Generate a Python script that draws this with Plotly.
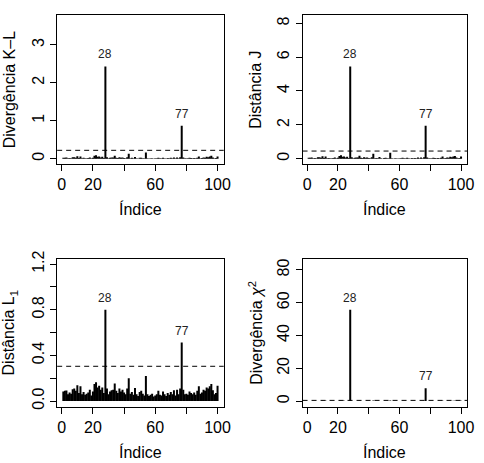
import plotly.graph_objects as go

indices = list(range(1, 101))

kl = [0.024, 0.027, 0.028, 0.012, 0.019, 0.014, 0.036, 0.040, 0.027, 0.065,
      0.016, 0.056, 0.012, 0.021, 0.010, 0.014, 0.019, 0.033, 0.008, 0.024,
      0.074, 0.090, 0.048, 0.060, 0.033, 0.048, 0.016, 2.430, 0.040, 0.012,
      0.024, 0.030, 0.033, 0.079, 0.027, 0.016, 0.040, 0.024, 0.033, 0.019,
      0.012, 0.040, 0.132, 0.014, 0.021, 0.010, 0.044, 0.012, 0.007, 0.021,
      0.027, 0.014, 0.008, 0.160, 0.012, 0.007, 0.010, 0.014, 0.005, 0.008,
      0.012, 0.027, 0.010, 0.008, 0.024, 0.012, 0.007, 0.016, 0.010, 0.021,
      0.012, 0.030, 0.008, 0.033, 0.012, 0.040, 0.870, 0.033, 0.012, 0.014,
      0.010, 0.024, 0.016, 0.012, 0.019, 0.010, 0.027, 0.056, 0.014, 0.019,
      0.033, 0.027, 0.048, 0.040, 0.056, 0.074, 0.030, 0.012, 0.016, 0.060]

jdist = [0.053, 0.059, 0.062, 0.026, 0.042, 0.031, 0.079, 0.088, 0.059, 0.143,
         0.035, 0.123, 0.026, 0.046, 0.022, 0.031, 0.042, 0.073, 0.018, 0.053,
         0.163, 0.198, 0.106, 0.132, 0.073, 0.106, 0.035, 5.450, 0.088, 0.026,
         0.053, 0.066, 0.073, 0.174, 0.059, 0.035, 0.088, 0.053, 0.073, 0.042,
         0.026, 0.088, 0.290, 0.031, 0.046, 0.022, 0.097, 0.026, 0.015, 0.046,
         0.059, 0.031, 0.018, 0.352, 0.026, 0.015, 0.022, 0.031, 0.011, 0.018,
         0.026, 0.059, 0.022, 0.018, 0.053, 0.026, 0.015, 0.035, 0.022, 0.046,
         0.026, 0.066, 0.018, 0.073, 0.026, 0.088, 1.950, 0.073, 0.026, 0.031,
         0.022, 0.053, 0.035, 0.026, 0.042, 0.022, 0.059, 0.123, 0.031, 0.042,
         0.073, 0.059, 0.106, 0.088, 0.123, 0.163, 0.066, 0.026, 0.035, 0.132]

l1 = [0.085, 0.090, 0.092, 0.060, 0.075, 0.065, 0.105, 0.110, 0.090, 0.140,
      0.070, 0.130, 0.060, 0.080, 0.055, 0.065, 0.075, 0.100, 0.050, 0.085,
      0.150, 0.165, 0.120, 0.135, 0.100, 0.120, 0.070, 0.800, 0.110, 0.060,
      0.085, 0.095, 0.100, 0.155, 0.090, 0.070, 0.110, 0.085, 0.100, 0.075,
      0.060, 0.110, 0.200, 0.065, 0.080, 0.055, 0.115, 0.060, 0.045, 0.080,
      0.090, 0.065, 0.050, 0.220, 0.060, 0.045, 0.055, 0.065, 0.040, 0.050,
      0.060, 0.090, 0.055, 0.050, 0.085, 0.060, 0.045, 0.070, 0.055, 0.080,
      0.060, 0.095, 0.050, 0.100, 0.060, 0.110, 0.513, 0.100, 0.060, 0.065,
      0.055, 0.085, 0.070, 0.060, 0.075, 0.055, 0.090, 0.130, 0.065, 0.075,
      0.100, 0.090, 0.120, 0.110, 0.130, 0.150, 0.095, 0.060, 0.070, 0.135]

chi2 = [0.06, 0.07, 0.07, 0.03, 0.05, 0.04, 0.09, 0.10, 0.07, 0.17,
        0.04, 0.15, 0.03, 0.05, 0.03, 0.04, 0.05, 0.08, 0.02, 0.06,
        0.20, 0.24, 0.12, 0.16, 0.08, 0.12, 0.04, 55.70, 0.10, 0.03,
        0.06, 0.08, 0.08, 0.21, 0.07, 0.04, 0.10, 0.06, 0.08, 0.05,
        0.03, 0.10, 0.36, 0.04, 0.05, 0.03, 0.11, 0.03, 0.02, 0.05,
        0.07, 0.04, 0.02, 0.44, 0.03, 0.02, 0.03, 0.04, 0.01, 0.02,
        0.03, 0.07, 0.03, 0.02, 0.06, 0.03, 0.02, 0.04, 0.03, 0.05,
        0.03, 0.08, 0.02, 0.08, 0.03, 0.10, 7.90, 0.08, 0.03, 0.04,
        0.03, 0.06, 0.04, 0.03, 0.05, 0.03, 0.07, 0.15, 0.04, 0.05,
        0.08, 0.07, 0.12, 0.10, 0.15, 0.20, 0.08, 0.03, 0.04, 0.16]

thresholds = [0.22, 0.45, 0.305, 0.45]
highlight = [28, 77]

y_titles = ["Divergência K–L", "Distância J", "Distância L<sub>1</sub>", "Divergência <i>χ</i><sup>2</sup>"]
y_ticks = [[0, 1, 2, 3], [0, 2, 4, 6, 8], [0, 0.4, 0.8, 1.2], [0, 20, 40, 60, 80]]
y_ticktext = [["0", "1", "2", "3"], ["0", "2", "4", "6", "8"],
              ["0.0", "0.4", "0.8", "1.2"], ["0", "20", "40", "60", "80"]]
y_minor = [[], [], [0.2, 0.6, 1.0], []]
x_ticks = [0, 20, 60, 100]
x_ticktext = ["0", "20", "60", "100"]
x_minor = [40, 80]
x_title = "Índice"

series = [kl, jdist, l1, chi2]

W, H = 484, 463
boxes = [(58, 227, 7, 160), (307, 474, 7, 160), (58, 227, 256.7, 408.3), (307, 474, 256.7, 408.3)]

FONT = "Liberation Sans, Arial, Helvetica, sans-serif"
fig = go.Figure()
layout = dict(width=W, height=H, margin=dict(l=0, r=0, t=0, b=0),
              paper_bgcolor="white", plot_bgcolor="white", showlegend=False,
              font=dict(family=FONT, size=16, color="black"))
annotations = []
shapes = []

for k, (vals, box) in enumerate(zip(series, boxes)):
    n = k + 1
    xa = "x" if n == 1 else f"x{n}"
    ya = "y" if n == 1 else f"y{n}"
    xs, ys = [], []
    for i, v in zip(indices, vals):
        xs += [i, i, None]
        ys += [0, v, None]
    fig.add_trace(go.Scatter(x=xs, y=ys, mode="lines", xaxis=xa, yaxis=ya,
                             line=dict(color="black", width=2), hoverinfo="skip"))
    x0, x1, y0, y1 = box
    ymax = 1.5 * max(vals)
    yr = [-0.04 * ymax, 1.04 * ymax]
    layout[f"xaxis{'' if n == 1 else n}"] = dict(
        domain=[x0 / W, x1 / W], anchor=ya, range=[1 - 0.04 * 99, 100 + 0.04 * 99],
        tickmode="array", tickvals=x_ticks, ticktext=x_ticktext, ticks="outside", ticklen=6,
        tickcolor="black",
        minor=dict(tickmode="array", tickvals=x_minor, ticks="outside", ticklen=6,
                   tickcolor="black", showgrid=False),
        showline=True, mirror=True, linecolor="black", linewidth=1,
        showgrid=False, zeroline=False, tickfont=dict(size=16))
    ydict = dict(
        domain=[1 - y1 / H, 1 - y0 / H], anchor=xa, range=yr,
        tickmode="array", tickvals=y_ticks[k], ticktext=y_ticktext[k], ticks="outside", ticklen=6,
        tickcolor="black", showline=True, mirror=True, linecolor="black", linewidth=1,
        showgrid=False, zeroline=False, tickangle=-90, tickfont=dict(size=16))
    if y_minor[k]:
        ydict["minor"] = dict(tickmode="array", tickvals=y_minor[k], ticks="outside", ticklen=6,
                              tickcolor="black", showgrid=False)
    layout[f"yaxis{'' if n == 1 else n}"] = ydict
    shapes.append(dict(type="line", xref=f"{xa} domain", yref=ya, x0=0, x1=1,
                       y0=thresholds[k], y1=thresholds[k],
                       line=dict(color="black", width=1, dash="5px,4px")))
    for idx in highlight:
        annotations.append(dict(x=idx, y=vals[idx - 1], xref=xa, yref=ya, text=str(idx),
                                showarrow=False, yanchor="bottom", yshift=3,
                                font=dict(size=12, color="#222")))
    annotations.append(dict(x=(x0 + x1) / 2 / W, y=1 - (y1 + 46) / H, xref="paper", yref="paper",
                            text=x_title, showarrow=False, xanchor="center", yanchor="middle",
                            font=dict(size=16)))
    annotations.append(dict(x=(x0 - 48) / W, y=1 - (y0 + y1) / 2 / H, xref="paper", yref="paper",
                            text=y_titles[k], showarrow=False, textangle=-90,
                            xanchor="center", yanchor="middle", font=dict(size=16)))

layout["annotations"] = annotations
layout["shapes"] = shapes
fig.update_layout(**layout)
fig.write_html("out.html", config={"displayModeBar": False},
               post_script="document.body.style.margin='0';document.body.style.overflow='hidden';")
